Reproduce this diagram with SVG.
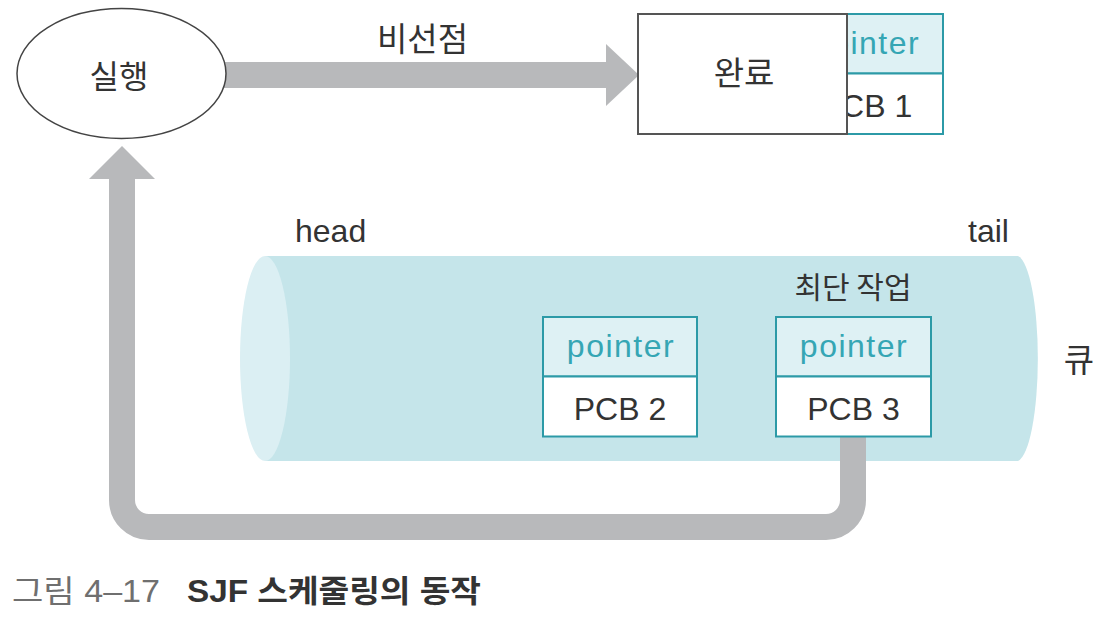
<svg xmlns="http://www.w3.org/2000/svg" width="1110" height="624" viewBox="0 0 1110 624">
<style>
.ko{font-family:"Noto Sans CJK KR","Liberation Sans",sans-serif;fill:#333}
.lat{font-family:"Liberation Sans","Noto Sans CJK KR",sans-serif;fill:#333;font-size:32px}
.ptr{font-family:"Liberation Sans",sans-serif;fill:#35a6b4;font-size:32px;letter-spacing:1.5px}
.cell{stroke:#2c9aa7;stroke-width:2}
.top{fill:#def1f4}
.bot{fill:#ffffff}
.arrow{fill:none;stroke:#b8b9bb;stroke-width:26}
.head{fill:#b8b9bb}
</style>
<rect width="1110" height="624" fill="#ffffff"/>

<g id="queue">
<path d="M 265 256 H 1018 A 22 103 0 0 1 1018 461 H 265 Z" fill="#c5e5ea"/>
<ellipse cx="265" cy="358.5" rx="25" ry="102.5" fill="#dbeff3"/>
<text class="lat" x="295" y="242">head</text>
<text class="lat" x="968" y="242">tail</text>
<text class="ko" x="1079" y="372" font-size="33" text-anchor="middle">큐</text>
<text class="ko" x="853" y="298" font-size="30" text-anchor="middle">최단 작업</text>
</g>

<g id="connectors">
<line class="arrow" x1="215" y1="75" x2="608" y2="75"/>
<polygon class="head" points="606,44 639,75 606,106"/>
<path class="arrow" d="M 853 437 V 500 A 27 27 0 0 1 826 527 H 149 A 27 27 0 0 1 122 500 V 176"/>
<polygon class="head" points="89,179 122,146 155,179"/>
</g>

<g id="run">
<ellipse cx="121.5" cy="73.5" rx="104.5" ry="65" fill="#ffffff" stroke="#444" stroke-width="1.5"/>
<text class="ko" x="119" y="88" font-size="32" text-anchor="middle">실행</text>
</g>

<text class="ko" x="422.5" y="51" font-size="33" text-anchor="middle">비선점</text>

<g id="pcb1">
<rect class="cell top" x="788" y="14" width="155" height="59.5"/>
<rect class="cell bot" x="788" y="73.5" width="155" height="60.5"/>
<text class="ptr" x="866" y="54" text-anchor="middle">pointer</text>
<text class="lat" x="866" y="116.5" text-anchor="middle">PCB 1</text>
</g>

<g id="done">
<rect x="638" y="14" width="209" height="120" fill="#ffffff" stroke="#555" stroke-width="2"/>
<text class="ko" x="744" y="85" font-size="33" text-anchor="middle">완료</text>
</g>

<g id="pcb2">
<rect class="cell top" x="543" y="317" width="154" height="59.5"/>
<rect class="cell bot" x="543" y="376.5" width="154" height="60"/>
<text class="ptr" x="621" y="357" text-anchor="middle">pointer</text>
<text class="lat" x="620" y="419.5" text-anchor="middle">PCB 2</text>
</g>

<g id="pcb3">
<rect class="cell top" x="776" y="317" width="155" height="59.5"/>
<rect class="cell bot" x="776" y="376.5" width="155" height="60"/>
<text class="ptr" x="854" y="357" text-anchor="middle">pointer</text>
<text class="lat" x="853.5" y="419.5" text-anchor="middle">PCB 3</text>
</g>

<g id="caption">
<text x="12" y="602" font-size="31" fill="#6f6f6f" font-family="Liberation Sans, Noto Sans CJK KR, sans-serif" textLength="148" lengthAdjust="spacingAndGlyphs">그림 4–17</text>
<text x="187" y="602" font-size="31" fill="#333" font-weight="bold" font-family="Liberation Sans, Noto Sans CJK KR, sans-serif" textLength="294" lengthAdjust="spacingAndGlyphs">SJF 스케줄링의 동작</text>
</g>
</svg>
